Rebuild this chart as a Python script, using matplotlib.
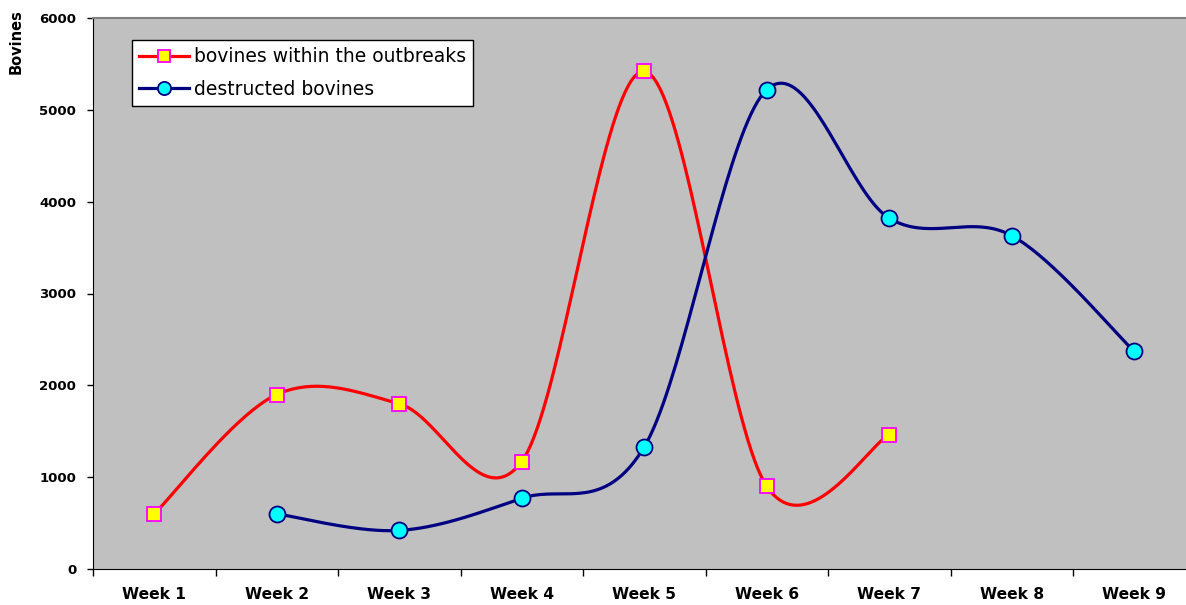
import numpy as np
import matplotlib.pyplot as plt

plt.rcParams['font.family'] = ['DejaVu Sans']

weeks = ['Week 1', 'Week 2', 'Week 3', 'Week 4', 'Week 5',
         'Week 6', 'Week 7', 'Week 8', 'Week 9']

# bovines within the outbreaks: weeks 1-7
outbreak_x = [0, 1, 2, 3, 4, 5, 6]
outbreak_y = [600, 1900, 1800, 1170, 5420, 900, 1460]

# destructed bovines: weeks 2-9
destructed_x = [1, 2, 3, 4, 5, 6, 7, 8]
destructed_y = [600, 420, 770, 1330, 5220, 3820, 3630, 2370]


def smooth(xs, ys, n=40):
    # Catmull-Rom style bezier through the points, like a spreadsheet "smoothed line"
    p = np.column_stack([xs, ys]).astype(float)
    p = np.vstack([p[0], p, p[-1]])
    out = []
    for i in range(1, len(p) - 2):
        p0, p1, p2, p3 = p[i - 1], p[i], p[i + 1], p[i + 2]
        c1 = p1 + (p2 - p0) / 6.0
        c2 = p2 - (p3 - p1) / 6.0
        t = np.linspace(0, 1, n)[:, None]
        seg = ((1 - t) ** 3 * p1 + 3 * (1 - t) ** 2 * t * c1
               + 3 * (1 - t) * t ** 2 * c2 + t ** 3 * p2)
        out.append(seg if i == 1 else seg[1:])
    out = np.vstack(out)
    return out[:, 0], out[:, 1]


fig = plt.figure(figsize=(11.86, 6.05), dpi=100)
ax = fig.add_axes([93 / 1186, 1 - 569 / 605, 1102.5 / 1186, 551 / 605])
ax.set_facecolor('#c0c0c0')

red = '#ff0000'
navy = '#000080'
sq = dict(marker='s', ms=10.5, mfc='#ffff00', mec='#ff00ff', mew=1.3)
dot = dict(marker='o', ms=11.5, mfc='#00ffff', mec=navy, mew=1.3)

sx, sy = smooth(outbreak_x, outbreak_y)
ax.plot(sx, sy, color=red, lw=2.3, zorder=2)
ax.plot(outbreak_x, outbreak_y, ls='none', zorder=3, **sq)

sx, sy = smooth(destructed_x, destructed_y)
ax.plot(sx, sy, color=navy, lw=2.3, zorder=2)
ax.plot(destructed_x, destructed_y, ls='none', zorder=3, **dot)

# legend entries built from line + marker proxies (markers a bit smaller)
h1, = ax.plot([], [], color=red, lw=2.3, **dict(sq, ms=9))
h2, = ax.plot([], [], color=navy, lw=2.3, **dict(dot, ms=9.5))
leg = ax.legend([h1, h2], ['bovines within the outbreaks', 'destructed bovines'],
                loc='upper left', bbox_to_anchor=(132 / 1186, 1 - 40 / 605),
                bbox_transform=fig.transFigure, borderaxespad=0, fontsize=13.5,
                frameon=True, fancybox=False, handlelength=2.65,
                handletextpad=0.27, borderpad=0.38, labelspacing=0.72)
leg.get_frame().set_edgecolor('black')
leg.get_frame().set_linewidth(1.0)
leg.get_frame().set_facecolor('white')
leg.get_frame().set_alpha(1)

ax.set_xlim(-0.5, 8.5)
ax.set_ylim(0, 6000)
ax.set_yticks(range(0, 6001, 1000))
ax.set_xticks(range(len(weeks)))
ax.set_xticklabels(weeks)
ax.set_xticks(np.arange(-0.5, 9, 1), minor=True)

ax.tick_params(axis='x', which='major', length=0, pad=13, labelsize=11.2)
ax.tick_params(axis='x', which='minor', length=5, width=1, direction='out')
ax.tick_params(axis='y', length=4, width=1, direction='out', pad=8, labelsize=9.5)
for lab in ax.get_xticklabels() + ax.get_yticklabels():
    lab.set_fontweight('bold')

ax.spines['left'].set_color('black')
ax.spines['bottom'].set_color('black')
ax.spines['top'].set_color('#808080')
ax.spines['top'].set_linewidth(1.5)
ax.spines['right'].set_visible(False)

fig.text(16 / 1186, 1 - 42 / 605, 'Bovines', rotation=90, ha='center',
         va='center', fontsize=10.5, fontweight='bold')

fig.savefig('out.png', dpi=100)
